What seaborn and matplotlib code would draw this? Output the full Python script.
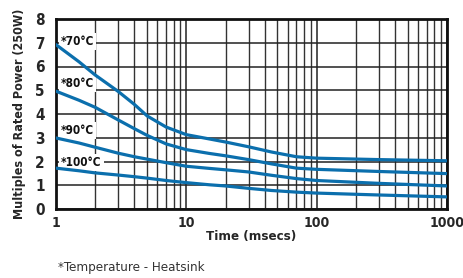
import matplotlib
matplotlib.use("Agg")
import matplotlib.pyplot as plt
import seaborn as sns
import pandas as pd
import numpy as np
from matplotlib.ticker import LogLocator, NullFormatter, FixedLocator
from matplotlib import font_manager as fm

time_ms = [1, 1.5, 2, 3, 4, 5, 7, 10, 15, 20, 30, 45, 70, 100, 300, 1000]
t70 = [6.92, 6.20, 5.64, 4.95, 4.40, 3.92, 3.45, 3.13, 2.95, 2.82, 2.62, 2.40, 2.20, 2.14, 2.08, 2.03]
t80 = [4.96, 4.58, 4.28, 3.75, 3.38, 3.10, 2.74, 2.50, 2.34, 2.24, 2.08, 1.90, 1.72, 1.67, 1.58, 1.49]
t90 = [2.99, 2.78, 2.60, 2.35, 2.20, 2.10, 1.95, 1.80, 1.71, 1.65, 1.56, 1.42, 1.28, 1.20, 1.08, 0.97]
t100 = [1.72, 1.61, 1.52, 1.43, 1.36, 1.30, 1.20, 1.11, 1.02, 0.97, 0.87, 0.78, 0.71, 0.67, 0.59, 0.51]
series_labels = ["*70°C", "*80°C", "*90°C", "*100°C"]
label_y = [7.05, 5.3, 3.3, 1.97]
x_ticks = [1, 10, 100, 1000]
x_ticklabels = ["1", "10", "100", "1000"]
y_ticks = [0, 1, 2, 3, 4, 5, 6, 7, 8]

rows = []
for lab, vals in zip(series_labels, [t70, t80, t90, t100]):
    for t, v in zip(time_ms, vals):
        rows.append({"time": t, "value": v, "series": lab})
df = pd.DataFrame(rows)

sns.set_style("white")
names = {f.name for f in fm.fontManager.ttflist}
cond = [f for f in fm.fontManager.ttflist if "Condensed" in f.fname and "DejaVuSans" in f.fname]
if "Liberation Sans Narrow" in names:
    FAM = ["Liberation Sans Narrow", "DejaVu Sans"]
    STRETCH = "normal"
elif cond:
    FAM = ["DejaVu Sans", "DejaVu Sans"]
    STRETCH = "condensed"
else:
    FAM = ["Liberation Sans", "DejaVu Sans"]
    STRETCH = "normal"
plt.rcParams["font.family"] = FAM
plt.rcParams["font.stretch"] = STRETCH

fig = plt.figure(figsize=(4.63, 2.78), dpi=100)
ax = fig.add_axes([56 / 463, 69 / 278, 391 / 463, 190 / 278])

blue = "#0b6fad"
sns.lineplot(data=df, x="time", y="value", hue="series",
             palette=[blue] * 4, linewidth=2.3, legend=False, ax=ax,
             zorder=3)

ax.set_xscale("log")
ax.set_xlim(1, 1000)
ax.set_ylim(0, 8)
ax.xaxis.set_major_locator(FixedLocator(x_ticks))
ax.set_xticklabels(x_ticklabels)
ax.xaxis.set_minor_locator(LogLocator(base=10, subs=np.arange(2, 10)))
ax.xaxis.set_minor_formatter(NullFormatter())
ax.set_yticks(y_ticks)

ax.grid(True, which="major", axis="both", color="#222222", linewidth=1.1)
ax.grid(True, which="minor", axis="x", color="#333333", linewidth=1.0)
ax.set_axisbelow(True)
for s in ax.spines.values():
    s.set_visible(True)
    s.set_color("#111111")
    s.set_linewidth(2.0)
ax.tick_params(axis="y", which="both", length=0, labelsize=11, pad=8)
ax.tick_params(axis="x", which="both", length=0, labelsize=10, pad=5)
for lbl in ax.get_xticklabels() + ax.get_yticklabels():
    lbl.set_fontweight("bold")

ax.set_xlabel("Time (msecs)", fontsize=9.5, fontweight="bold", labelpad=0)
ax.set_ylabel("Multiples of Rated Power (250W)", fontsize=9, fontweight="bold", labelpad=7)

for lab, ly in zip(series_labels, label_y):
    ax.text(1.09, ly, lab, fontsize=8.5, fontweight="bold", va="center", ha="left",
            color="#111111", zorder=2.5,
            bbox=dict(facecolor="white", edgecolor="none", pad=1.5))

fig.text(58 / 463, 1 - 268 / 278, "*Temperature - Heatsink", fontsize=9.5,
         color="#333333", va="center", ha="left")

fig.savefig("out.png", dpi=100)
